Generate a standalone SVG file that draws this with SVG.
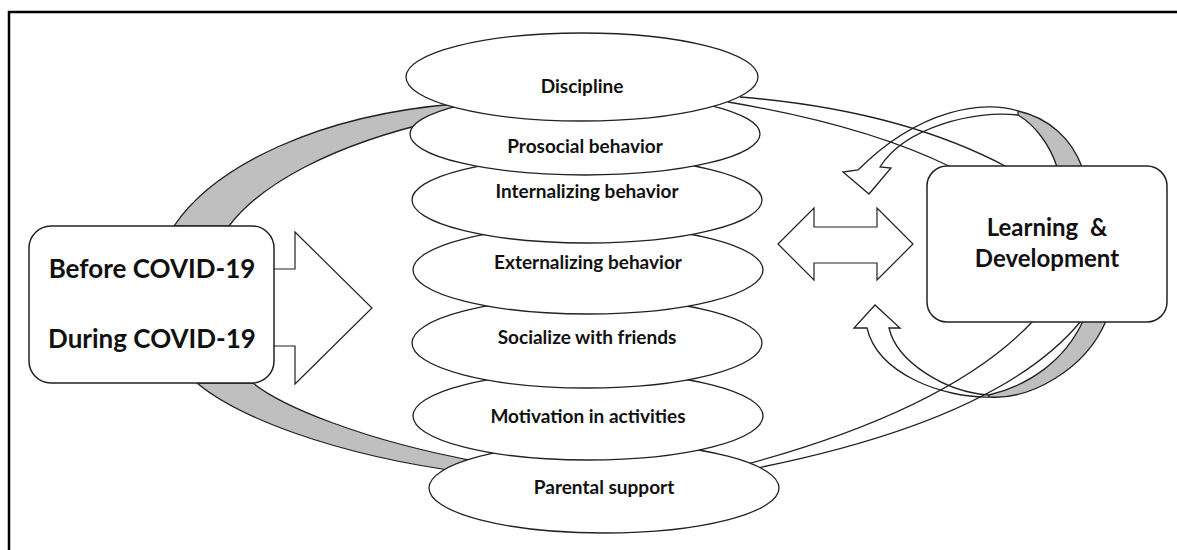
<svg xmlns="http://www.w3.org/2000/svg" width="1177" height="550" viewBox="0 0 1177 550">
<style>
.frame{fill:none;stroke:#000;stroke-width:2.5}
.band{fill:#bfbfbf;stroke:#222;stroke-width:1.3;stroke-linejoin:round}
.line{fill:none;stroke:#222;stroke-width:1.3}
.arc{fill:none;stroke:#222;stroke-width:1.3;stroke-linejoin:miter}
.ell{fill:#fff;stroke:#222;stroke-width:1.3}
.box{fill:#fff;stroke:#222;stroke-width:1.5}
.blk{fill:#fff;stroke:#222;stroke-width:1.2;stroke-linejoin:miter}
.et{font-family:Lato,'Liberation Sans',sans-serif;font-weight:bold;font-size:19px;fill:#111;text-anchor:middle}
.bt{font-family:Lato,'Liberation Sans',sans-serif;font-weight:bold;font-size:26px;fill:#111;text-anchor:middle}
.lt{font-family:Lato,'Liberation Sans',sans-serif;font-weight:bold;font-size:24px;fill:#111;text-anchor:middle}
</style>
<path class="frame" d="M9,552 V12 H1180"/>
<g id="connectors">
  <path class="band" d="M174,226 C215,165 320,115 455,104 L480,105 L440,120 C330,145 260,185 229,226 Z"/>
  <path class="band" d="M197,383 C235,415 330,455 470,473 L480,462 C360,440 280,405 253,383 Z"/>
  <path class="line" d="M740,97 Q900,110 1007,167"/>
  <path class="line" d="M728,102 Q865,125 951,167"/>
  <path class="line" d="M740,466 Q950,410 1033,321"/>
  <path class="line" d="M752,469 Q1000,420 1081,321"/>
  <path class="band" d="M1082,167 C1072,140 1050,118 1018,111 L1018,115 C1035,125 1050,145 1057,167 Z"/>
  <path class="arc" d="M1018,111 C985,100 920,108 858,170 L843,172 L869,194 L891,168 L880,167 C905,127 975,110 1018,115"/>
  <path class="arc" d="M989,397 C945,398 878,375 867,328 L854,328 L875,305 L900,328 L889,328 C897,362 945,392 989,395"/>
  <path class="band" d="M989,397 C1030,400 1085,370 1106,321 L1083,321 C1065,360 1030,385 989,395 Z"/>
</g>
<g id="node-parental"><ellipse class="ell" cx="604" cy="488" rx="175" ry="45"/><text class="et" x="604" y="494">Parental support</text></g>
<g id="node-motivation"><ellipse class="ell" cx="588" cy="416" rx="175" ry="44"/><text class="et" x="588" y="423">Motivation in activities</text></g>
<g id="node-socialize"><ellipse class="ell" cx="587" cy="343" rx="175" ry="45"/><text class="et" x="587" y="344">Socialize with friends</text></g>
<g id="node-externalizing"><ellipse class="ell" cx="588" cy="270" rx="175" ry="44"/><text class="et" x="588" y="269">Externalizing behavior</text></g>
<g id="node-internalizing"><ellipse class="ell" cx="587" cy="200" rx="175" ry="43"/><text class="et" x="587" y="198">Internalizing behavior</text></g>
<g id="node-prosocial"><ellipse class="ell" cx="585" cy="134" rx="175" ry="41"/><text class="et" x="585" y="153">Prosocial behavior</text></g>
<g id="node-discipline"><ellipse class="ell" cx="582" cy="77" rx="176" ry="44"/><text class="et" x="582" y="93">Discipline</text></g>
<g id="arrow-right"><path class="blk" d="M268,269 L295,269 L295,232 L372,308 L295,384 L295,346 L268,346 Z"/></g>
<g id="node-covid"><rect class="box" x="29" y="226" width="245" height="157" rx="22"/>
<text class="bt" x="152" y="278">Before COVID-19</text>
<text class="bt" x="152" y="348">During COVID-19</text></g>
<g id="arrow-double"><path class="blk" d="M778,244 L814,208 L814,227 L877,227 L877,208 L913,244 L877,280 L877,263 L814,263 L814,280 Z"/></g>
<g id="node-learning"><rect class="box" x="927" y="166" width="240" height="156" rx="20"/>
<text class="lt" x="1047" y="236" xml:space="preserve">Learning  &amp;</text>
<text class="lt" x="1047" y="267">Development</text></g>
</svg>
